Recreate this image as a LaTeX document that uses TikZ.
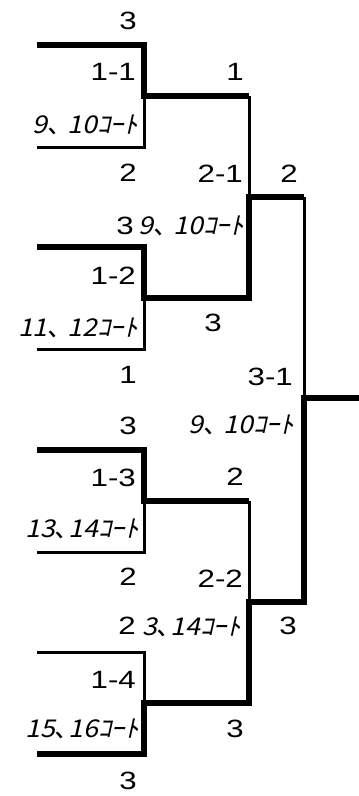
\documentclass[tikz,border=0pt]{standalone}
\usepackage{fontspec}
\setmainfont{Liberation Sans}
\newfontfamily\labelfont[FakeStretch=1.25]{Liberation Sans}
\newfontfamily\courtfont[FakeSlant=0.22, FakeStretch=1.1]{Noto Sans CJK JP}
\usetikzlibrary{positioning}
\tikzset{
  won/.style={line width=6.5pt},
  lost/.style={line width=3pt},
  score/.style={font=\labelfont\fontsize{25}{26}\selectfont, inner sep=0pt, text height=18pt, text depth=0pt},
  matchno/.style={score, anchor=east},
  court/.style={font=\courtfont\fontsize{24.5}{26}\selectfont, inner sep=0pt, text height=18pt, text depth=0pt, anchor=east}
}

\begin{document}
\begin{tikzpicture}[x=1pt, y=-1pt]
  \useasboundingbox (0,0) rectangle (359,796);
  % round 1 junctions
  \coordinate (r11) at (144,96);
  \coordinate (r12) at (144,298);
  \coordinate (r13) at (144,501);
  \coordinate (r14) at (144,703);
  % round 2 junctions
  \coordinate (r21) at (249,197);
  \coordinate (r22) at (249,602);
  % final
  \coordinate (r31) at (304,398);
  \coordinate (champ) at (359,398);

  % losing sides
  \draw[lost] (37,147) -| (r11);
  \draw[lost] (37,349) -| (r12);
  \draw[lost] (37,552) -| (r13);
  \draw[lost] (37,652) -| (r14);
  \draw[lost] (r11 -| r21) -- (r21);
  \draw[lost] (r13 -| r22) -- (r22);
  \draw[lost] (r21 -| r31) -- (r31);

  % winning sides
  \draw[won] (37,45) -| (r11) -- (r11 -| r21);
  \draw[won] (37,247) -| (r12) -- (r12 -| r21) -- (r21) -- (r21 -| r31);
  \draw[won] (37,450) -| (r13) -- (r13 -| r22);
  \draw[won] (37,754) -| (r14) -- (r14 -| r22) -- (r22) -- (r22 -| r31) -- (r31) -- (champ);

  % round 1 scores
  \node[score] (s11a) at (128,20) {3};
  \node[score] (s11b) at (128,172) {2};
  \node[score] (s12a) at (125,225) {3};
  \node[score] (s12b) at (128,374) {1};
  \node[score] (s13a) at (128,425) {3};
  \node[score] (s13b) at (128,576) {2};
  \node[score] (s14a) at (127,625) {2};
  \node[score] (s14b) at (128,780) {3};
  % round 2 scores
  \node[score] (s21a) at (235,71) {1};
  \node[score] (s21b) at (213,322) {3};
  \node[score] (s22a) at (235,476) {2};
  \node[score] (s22b) at (235,728) {3};
  % final scores
  \node[score] (s31a) at (289,173) {2};
  \node[score] (s31b) at (288,625) {3};

  % match numbers and courts
  \node[matchno] (m11) at (136,71) {1-1};
  \node[court] (c11) at (138,124) {9､ 10ｺｰﾄ};
  \node[matchno] (m12) at (136,275) {1-2};
  \node[court] (c12) at (138,327) {11､ 12ｺｰﾄ};
  \node[matchno] (m13) at (136,477) {1-3};
  \node[court] (c13) at (139,528) {13､14ｺｰﾄ};
  \node[matchno] (m14) at (136,679) {1-4};
  \node[court] (c14) at (139,728) {15､16ｺｰﾄ};
  \node[matchno] (m21) at (243,173) {2-1};
  \node[court] (c21) at (244,225) {9､ 10ｺｰﾄ};
  \node[matchno] (m22) at (243,578) {2-2};
  \node[court] (c22) at (241,626) {3､14ｺｰﾄ};
  \node[matchno] (m31) at (293,376) {3-1};
  \node[court] (c31) at (294,424) {9､ 10ｺｰﾄ};
\end{tikzpicture}
\end{document}
